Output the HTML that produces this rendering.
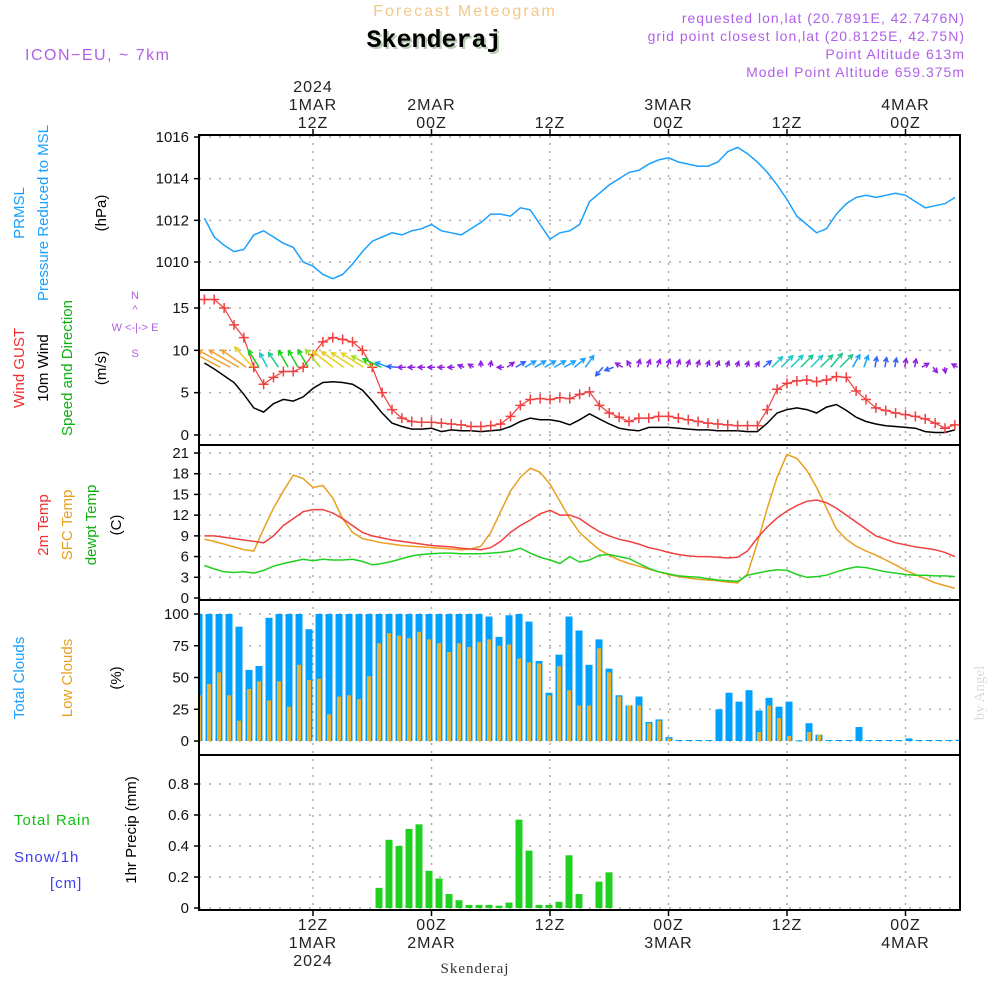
<!DOCTYPE html>
<html><head><meta charset="utf-8"><style>
body{margin:0;background:#fff;}
svg{display:block;font-family:"Liberation Sans",sans-serif;}
</style></head><body>
<svg id="chart" width="1000" height="1000" viewBox="0 0 1000 1000" xmlns="http://www.w3.org/2000/svg">
<defs><clipPath id="plotclip"><rect x="199" y="135" width="761" height="775"/></clipPath></defs>
<g>
<text x="465" y="16" text-anchor="middle" font-size="16" fill="#f2c98a" letter-spacing="2">Forecast Meteogram</text>
<text x="436" y="49" text-anchor="middle" font-size="25" font-weight="bold" font-family="Liberation Mono, monospace" fill="#b8ccb4">Skenderaj</text>
<text x="434" y="47" text-anchor="middle" font-size="25" font-weight="bold" font-family="Liberation Mono, monospace" fill="#000">Skenderaj</text>
<text x="25" y="60" font-size="16" fill="#b060e8" letter-spacing="1.5">ICON−EU, ~ 7km</text>
<text x="965" y="23" text-anchor="end" font-size="14" fill="#b060e8" letter-spacing="1">requested lon,lat (20.7891E, 42.7476N)</text>
<text x="965" y="41" text-anchor="end" font-size="14" fill="#b060e8" letter-spacing="1">grid point closest lon,lat (20.8125E, 42.75N)</text>
<text x="965" y="59" text-anchor="end" font-size="14" fill="#b060e8" letter-spacing="1">Point Altitude 613m</text>
<text x="965" y="77" text-anchor="end" font-size="14" fill="#b060e8" letter-spacing="1">Model Point Altitude 659.375m</text>
</g>
<g id="grid"></g>
<g id="marks" clip-path="url(#plotclip)"></g>
<g id="frame"></g>
<g id="labels" font-size="15" fill="#222"></g>
<g font-size="15">
<text transform="translate(24,213) rotate(-90)" text-anchor="middle" fill="#1aa0ff">PRMSL</text>
<text transform="translate(48,213) rotate(-90)" text-anchor="middle" fill="#1aa0ff">Pressure Reduced to MSL</text>
<text transform="translate(106,213) rotate(-90)" text-anchor="middle" fill="#000">(hPa)</text>
<text transform="translate(24,368) rotate(-90)" text-anchor="middle" fill="#f03030">Wind GUST</text>
<text transform="translate(48,368) rotate(-90)" text-anchor="middle" fill="#000">10m Wind</text>
<text transform="translate(72,368) rotate(-90)" text-anchor="middle" fill="#10b010">Speed and Direction</text>
<text transform="translate(106,368) rotate(-90)" text-anchor="middle" fill="#000">(m/s)</text>
<text x="135" y="299" font-size="11" fill="#b060e8" text-anchor="middle">N</text>
<text x="135" y="331" font-size="11" fill="#b060e8" text-anchor="middle">W &lt;-|-&gt; E</text>
<text x="135" y="357" font-size="11" fill="#b060e8" text-anchor="middle">S</text>
<text x="135" y="313" font-size="11" fill="#b060e8" text-anchor="middle">^</text>
<text transform="translate(48,525) rotate(-90)" text-anchor="middle" fill="#f03030">2m Temp</text>
<text transform="translate(72,525) rotate(-90)" text-anchor="middle" fill="#e8a020">SFC Temp</text>
<text transform="translate(96,525) rotate(-90)" text-anchor="middle" fill="#10b010">dewpt Temp</text>
<text transform="translate(121,525) rotate(-90)" text-anchor="middle" fill="#000">(C)</text>
<text transform="translate(24,678) rotate(-90)" text-anchor="middle" fill="#1aa0ff">Total Clouds</text>
<text transform="translate(72,678) rotate(-90)" text-anchor="middle" fill="#e8a020">Low Clouds</text>
<text transform="translate(121,678) rotate(-90)" text-anchor="middle" fill="#000">(%)</text>
<text x="14" y="825" fill="#10c010" letter-spacing="1">Total  Rain</text>
<text x="14" y="862" fill="#4040f0" letter-spacing="1">Snow/1h</text>
<text x="50" y="888" fill="#4040f0" letter-spacing="1">[cm]</text>
<text transform="translate(136,830) rotate(-90)" text-anchor="middle" fill="#000">1hr Precip (mm)</text>
<text transform="translate(984,693) rotate(-90)" text-anchor="middle" font-family="Liberation Serif, serif" font-size="15" fill="#dcdcdc">by Angel</text>
<text x="475" y="973" text-anchor="middle" font-family="Liberation Serif, serif" font-size="15" fill="#333" letter-spacing="1">Skenderaj</text>
</g>
</svg>
<script>
const hours = Array.from({length:77},(_,i)=>i+1);
const pressure = [1012.1,1011.2,1010.8,1010.5,1010.6,1011.3,1011.5,1011.2,1010.9,1010.7,
1010.0,1009.8,1009.4,1009.2,1009.4,1009.9,1010.5,1011.0,1011.2,1011.4,
1011.3,1011.5,1011.6,1011.8,1011.5,1011.4,1011.3,1011.6,1011.9,1012.3,
1012.3,1012.2,1012.6,1012.5,1011.8,1011.1,1011.4,1011.5,1011.8,1012.9,
1013.3,1013.7,1014.0,1014.3,1014.4,1014.7,1014.9,1015.0,1014.8,1014.7,
1014.6,1014.6,1014.8,1015.3,1015.5,1015.2,1014.8,1014.3,1013.7,1013.0,
1012.2,1011.8,1011.4,1011.6,1012.3,1012.8,1013.1,1013.2,1013.1,1013.2,
1013.3,1013.2,1012.9,1012.6,1012.7,1012.8,1013.1];
const gust = [16,16,15,13,11.5,8,6,6.8,7.5,7.5,
8,9.5,11,11.5,11.3,11,10,8,5,3,
2,1.6,1.5,1.5,1.4,1.3,1.2,1,1,1.1,
1.3,2.2,3.5,4.2,4.3,4.2,4.4,4.3,4.8,5.1,
3.5,2.6,2.1,1.6,2,2,2.2,2.2,2,1.8,
1.6,1.4,1.3,1.2,1.1,1.1,1.1,3,5.4,6.1,
6.4,6.5,6.3,6.5,6.9,6.8,5.2,4.2,3.2,2.9,
2.6,2.4,2.2,1.9,1.4,0.8,1.2];
const wind = [8.5,7.8,7,6.2,4.8,3.2,2.7,3.7,4.2,4,
4.5,5.5,6.2,6.3,6.2,6,5.3,4,2.6,1.4,
1,0.7,0.7,0.8,0.4,0.6,0.5,0.5,0.4,0.5,
0.6,1,1.6,2,1.8,1.8,1.6,1.2,1.8,2.5,
1.9,1.3,0.8,0.6,0.5,0.9,0.9,0.9,0.8,0.7,
0.6,0.6,0.5,0.5,0.5,0.4,0.4,1.4,2.6,3,
3.2,3,2.6,3.3,3.6,2.9,2.1,1.6,1.3,1.1,
1,0.9,0.8,0.4,0.3,0.3,0.6];
const windHeading = [298,298,300,305,318,328,332,326,330,330,
330,320,308,305,303,303,298,295,290,275,
270,270,270,270,270,270,290,300,0,10,
270,55,60,60,60,60,60,60,50,35,
220,250,300,330,15,20,20,20,20,20,
20,20,20,20,20,20,30,50,45,45,
45,45,45,45,40,45,30,20,10,10,
10,10,10,60,140,170,300];
const temp2m = [9,9,8.8,8.6,8.4,8.2,8,9,10.5,11.5,
12.5,12.8,12.8,12.3,11.5,10.5,9.5,9,8.7,8.4,
8.2,8,7.8,7.6,7.5,7.4,7.2,7.1,7,7.3,
8.2,9.5,10.5,11.3,12.2,12.7,12,12,11.5,10.5,
9.6,9,8.5,8.2,7.8,7.3,7,6.6,6.3,6.1,
6,6,5.9,5.8,5.9,6.8,8.7,10.3,11.6,12.6,
13.4,14,14.2,13.8,13,12,11,10,9,8.5,
8,7.7,7.4,7.2,7,6.6,6];
const tempSfc = [8.5,8.2,7.8,7.4,7,6.8,10,13,15.5,17.8,
17.3,16,16.3,14.5,11.5,9.5,8.6,8.3,8,7.8,
7.6,7.5,7.4,7.3,7.2,7.1,7,7.1,
7.5,9.5,12.5,15.5,17.5,18.8,18.2,16.5,14,11.5,
9.5,8.2,7,6.2,5.5,5,4.6,4.2,3.8,3.4,3.1,2.9,
2.7,2.6,2.5,2.3,2.2,3.5,8,13,17.5,20.8,
20.2,18.5,16,13,10,8.5,7.5,6.8,6.2,5.5,
4.8,4,3.4,2.8,2.2,1.8,1.4];
const dewpt = [4.7,4.2,3.8,3.7,3.8,3.6,4,4.6,5,5.3,
5.6,5.4,5.6,5.5,5.5,5.6,5.3,4.8,5,5.3,
5.7,6.1,6.3,6.4,6.5,6.5,6.4,6.4,6.4,6.5,
6.6,6.8,7.2,6.5,5.9,5.5,5,6,5.2,5.5,
6.2,6.3,6,5.7,5,4.3,3.8,3.5,3.2,3.1,
3,2.8,2.6,2.5,2.4,3.3,3.6,3.9,4.1,4,
3.4,3,3.1,3.3,3.8,4.2,4.5,4.4,4.1,3.8,
3.6,3.4,3.3,3.3,3.2,3.2,3.1];
const totalClouds = [100,100,100,100,90,56,59,97,100,100,
100,88,100,100,100,100,100,100,100,100,
100,100,100,100,100,100,100,100,100,98,
82,99,100,94,63,38,68,98,87,60,
80,57,36,28,35,15,17,3,0,0,
0,0,25,38,31,40,24,34,27,31,
0.5,14,5,0,0,0,11,0,0,0,
0,2,0,0,0,0,1];
const lowClouds = [36,45,54,36,16,41,47,32,47,27,
60,48,49,21,35,36,33,51,77,85,
83,81,86,80,77,70,77,74,78,80,
75,76,65,62,61,36,59,40,28,28,
73,54,35,28,28,14,16,2,0,0,
0,0,0,0,0,0,7,28,18,4,
0,7,5,0,0,0,0,0,0,0,
0,0,0,0,0,0,0];
const precip = [0,0,0,0,0,0,0,0,0,0,0,0,0,0,0,0,0,0,
0.13,0.44,0.40,0.51,0.54,0.24,0.19,0.09,0.05,0.02,
0.02,0.02,0.015,0.035,0.57,0.37,0.02,0.02,0.04,0.34,
0.09,0,0.17,0.23,
0,0,0,0,0,0,0,0,0,0,0,0,0,0,0,0,0,0,0,0,0,0,0,0,0,0,0,0,0,0,0,0,0,0,0];
const pressTicks = [1010,1012,1014,1016];
const windTicks = [0,5,10,15];
const tempTicks = [0,3,6,9,12,15,18,21];
const cloudTicks = [0,25,50,75,100];
const precipTicks = ["0","0.2","0.4","0.6","0.8"];
const timeTicks = [12,24,36,48,60,72];
const timeTop = [["2024","1MAR","12Z"],["","2MAR","00Z"],["","","12Z"],["","3MAR","00Z"],["","","12Z"],["","4MAR","00Z"]];
const timeBottom = [["12Z","1MAR","2024"],["00Z","2MAR",""],["12Z","",""],["00Z","3MAR",""],["12Z","",""],["00Z","4MAR",""]];

const NS="http://www.w3.org/2000/svg";
const X0=199,X1=960;
const xScale=h=>313+(h-12)*9.875;
const barX=i=>199+10*i;
const lin=(d0,d1,r0,r1)=>v=>r0+(v-d0)*(r1-r0)/(d1-d0);
const yP=lin(1010,1016,262,137), yW=lin(0,15,435,308), yT=lin(0,21,598,453), yC=lin(0,100,741,614), yR=lin(0,0.8,908,784);
const panels=[[135,290],[290,445],[445,600],[600,755],[755,910]];
function mk(tag,attrs,parent){const e=document.createElementNS(NS,tag);for(const k in attrs)e.setAttribute(k,attrs[k]);parent.appendChild(e);return e;}
const grid=document.getElementById('grid'),marks=document.getElementById('marks'),frame=document.getElementById('frame'),labels=document.getElementById('labels');
timeTicks.forEach(h=>{const l=mk('line',{x1:xScale(h),x2:xScale(h),y1:135,y2:910,stroke:'#aaa','stroke-dasharray':'2,6','stroke-width':1.5},grid);

});
function hTicks(ticks,scale,name){ticks.forEach(t=>{const v=parseFloat(t);const y=scale(v);
const g=mk('line',{x1:X0,x2:X1,y1:y,y2:y,stroke:'#aaa','stroke-dasharray':'2,8','stroke-width':1.5},grid);


const tk=mk('line',{x1:X0-5,x2:X0,y1:y,y2:y,stroke:'#000','stroke-width':1.5},frame);


const tx=mk('text',{x:X0-10,y:y+5,'text-anchor':'end','font-size':15,fill:'#111'},labels);tx.textContent=t;

});}
hTicks(pressTicks,yP,'pressure');hTicks(windTicks,yW,'wind');hTicks(tempTicks,yT,'temp');hTicks(cloudTicks,yC,'cloud');hTicks(precipTicks,yR,'precip');
totalClouds.forEach((v,i)=>{const x=barX(i);const h=Math.max(v*1.27,1);
const r=mk('rect',{x:Math.max(x-3.5,X0),y:yC(v)-(v>0?0:1),width:x-3.5<X0?3.5:7,height:h,fill:'#00a0ff'},marks);


const lv=lowClouds[i];if(lv>0){const r2=mk('rect',{x:Math.max(x-2,X0),y:yC(lv),width:x-2<X0?2:4,height:lv*1.27,fill:'#e8b030'},marks);

}});
precip.forEach((v,i)=>{if(v<=0)return;const x=barX(i);
const r=mk('rect',{x:x-3.5,y:yR(v),width:7,height:yR(0)-yR(v),fill:'#20d020'},marks);

});
function line(data,scale,color,name,w){const p=data.map((v,i)=>xScale(hours[i]).toFixed(1)+','+scale(v).toFixed(1)).join(' ');
const l=mk('polyline',{points:p,fill:'none',stroke:color,'stroke-width':w||1.5},marks);

}
line(pressure,yP,'#1aa0ff','pressure-line');
line(wind,yW,'#000','wind-speed-line');
line(gust,yW,'#f04040','wind-gust-line',1.2);
gust.forEach((v,i)=>{const x=xScale(hours[i]),y=yW(v);
const c=mk('path',{d:`M${x-5},${y}h10M${x},${y-5}v10`,stroke:'#f04040','stroke-width':1.5},marks);

});
line(tempSfc,yT,'#e8a020','sfc-temp-line');
line(temp2m,yT,'#f04040','temp-2m-line');
line(dewpt,yT,'#20d020','dewpt-line');
function wcol(s){if(s>=12.5)return'#f0a030';if(s>=10.5)return'#e8d020';if(s>=9)return'#a0e020';if(s>=7.5)return'#20d020';if(s>=6.5)return'#20c890';if(s>=5.3)return'#20c8c8';if(s>=4)return'#1aa0ff';if(s>=2.5)return'#3060ff';return'#9020e0';}
windHeading.forEach((d,i)=>{const s=gust[i];const L=4+s*2;const a=d*Math.PI/180;
const dx=L*Math.sin(a),dy=-L*Math.cos(a);
const x=xScale(hours[i])-dx/2,y=yW(8);const tx=x+dx,ty=y+dy;
const b1=a+Math.PI-0.5,b2=a+Math.PI+0.5;const hl=5;
const p=`M${x},${y}L${tx},${ty}M${tx+hl*Math.sin(b1)},${ty-hl*Math.cos(b1)}L${tx},${ty}L${tx+hl*Math.sin(b2)},${ty-hl*Math.cos(b2)}`;
const ar=mk('path',{d:p,stroke:wcol(s),'stroke-width':1.5,fill:'none'},marks);

});
panels.forEach(([t,b])=>{const r=mk('rect',{x:X0,y:t,width:X1-X0,height:b-t,fill:'none',stroke:'#000','stroke-width':2},frame);

});
timeTicks.forEach((h,k)=>{const x=xScale(h);
const tk=mk('line',{x1:x,x2:x,y1:129,y2:135,stroke:'#000','stroke-width':1.5},frame);


const tk2=mk('line',{x1:x,x2:x,y1:910,y2:916,stroke:'#000','stroke-width':1.5},frame);


timeTop[k].forEach((s,j)=>{if(!s)return;const t=mk('text',{x:x,y:92+j*18,'text-anchor':'middle','font-size':16,fill:'#222','letter-spacing':1},labels);t.textContent=s;

});
timeBottom[k].forEach((s,j)=>{if(!s)return;const t=mk('text',{x:x,y:930+j*18,'text-anchor':'middle','font-size':16,fill:'#222','letter-spacing':1},labels);t.textContent=s;

});});
</script>
</body></html>
